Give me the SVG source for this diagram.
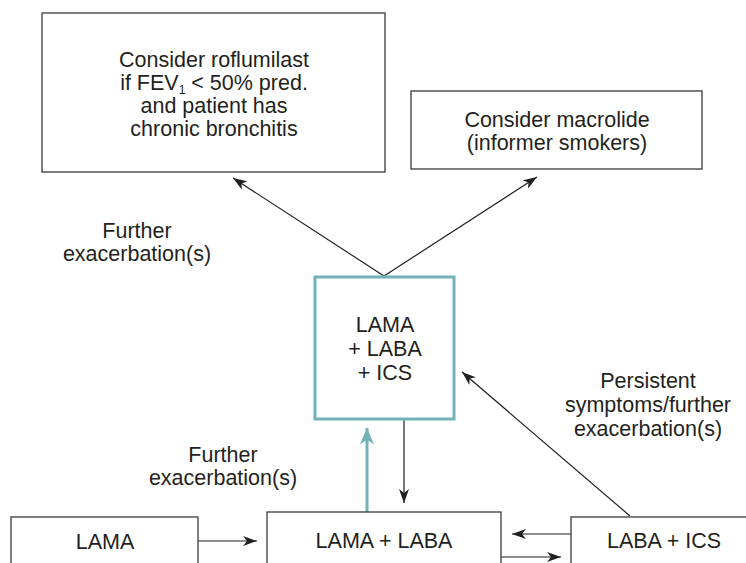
<svg xmlns="http://www.w3.org/2000/svg" width="746" height="563" viewBox="0 0 746 563">
<style>
.box{fill:#fff;stroke:#3a3a3a;stroke-width:1.3}
.teal{fill:#fff;stroke:#72b3b8;stroke-width:3}
text{font-family:"Liberation Sans",Arial,sans-serif;font-size:21.5px;fill:#231f20;text-anchor:middle}
.ln{stroke:#231f20;stroke-width:1.2;fill:none}
.lt{stroke:#72b3b8;stroke-width:3;fill:none}
</style>
<defs>
<marker id="ah" viewBox="0 0 14 10" refX="14" refY="5" markerWidth="14" markerHeight="10" markerUnits="userSpaceOnUse" orient="auto">
<path d="M0,0 L14,5 L0,10 L4,5 Z" fill="#231f20"/>
</marker>
<marker id="aht" viewBox="0 0 14 12" refX="14" refY="6" markerWidth="18" markerHeight="14" markerUnits="userSpaceOnUse" orient="auto">
<path d="M0,0 L14,6 L0,12 L4,6 Z" fill="#72b3b8"/>
</marker>
</defs>
<g id="connectors">
<line class="ln" x1="384" y1="276" x2="233" y2="178" marker-end="url(#ah)"/>
<line class="ln" x1="384" y1="276" x2="537" y2="177" marker-end="url(#ah)"/>
<line class="ln" x1="404" y1="419" x2="404" y2="503" marker-end="url(#ah)"/>
<line class="lt" x1="367" y1="512" x2="367" y2="428" marker-end="url(#aht)"/>
<line class="ln" x1="630" y1="516" x2="462" y2="372" marker-end="url(#ah)"/>
<line class="ln" x1="198" y1="541" x2="257" y2="541" marker-end="url(#ah)"/>
<line class="ln" x1="571" y1="534" x2="512" y2="534" marker-end="url(#ah)"/>
<line class="ln" x1="501" y1="557" x2="561" y2="557" marker-end="url(#ah)"/>
</g>
<g id="label-top">
<text x="137" y="238">Further</text>
<text x="137" y="261">exacerbation(s)</text>
</g>
<g id="label-bottom">
<text x="223" y="462">Further</text>
<text x="223" y="485">exacerbation(s)</text>
</g>
<g id="label-right">
<text x="648" y="388">Persistent</text>
<text x="648" y="412">symptoms/further</text>
<text x="648" y="436">exacerbation(s)</text>
</g>
<g id="roflumilast">
<rect class="box" x="42" y="13" width="343" height="159"/>
<text x="214" y="67">Consider roflumilast</text>
<text x="214" y="90">if FEV<tspan font-size="12" dy="4">1</tspan><tspan dy="-4"> &lt; 50% pred.</tspan></text>
<text x="214" y="113">and patient has</text>
<text x="214" y="136">chronic bronchitis</text>
</g>
<g id="macrolide">
<rect class="box" x="411" y="91" width="291" height="78"/>
<text x="557" y="127">Consider macrolide</text>
<text x="557" y="150">(informer smokers)</text>
</g>
<g id="triple">
<rect class="teal" x="315" y="277" width="139" height="142"/>
<text x="385" y="332">LAMA</text>
<text x="385" y="356">+ LABA</text>
<text x="385" y="380">+ ICS</text>
</g>
<g id="lama">
<rect class="box" x="11" y="517" width="187" height="60"/>
<text x="105" y="549">LAMA</text>
</g>
<g id="lama-laba">
<rect class="box" x="267" y="512" width="234" height="65"/>
<text x="384" y="548">LAMA + LABA</text>
</g>
<g id="laba-ics">
<rect class="box" x="571" y="517" width="190" height="60"/>
<text x="664" y="548">LABA + ICS</text>
</g>
</svg>
